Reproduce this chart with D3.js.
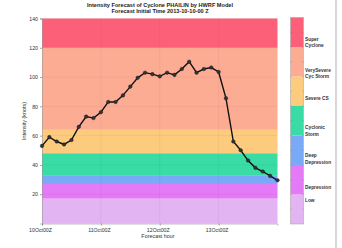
<!DOCTYPE html>
<html>
<head>
<meta charset="utf-8">
<script src="https://cdn.jsdelivr.net/npm/d3@7"></script>
<style>
  body { margin: 0; background: #fff; }
  text { font-family: "Liberation Sans", Arial, sans-serif; }
</style>
</head>
<body>
<div id="chart"></div>
<script>
// forecast hours (3-hourly from 2013-10-10 00Z) and intensity in knots
const hours = [0,3,6,9,12,15,18,21,24,27,30,33,36,39,42,45,48,51,54,57,60,63,66,69,72,75,78,81,84,87,90,93,96];
const intensity = [53,59,56,54,57,66,73,72,76,83,83,87.5,93.5,99.5,103,102,100.5,103,101.5,105.5,110.5,103,105.5,106.5,103.5,85.5,56,50,43,38,35.5,32.5,29.5];

// intensity categories (knots)
const catNames = [["Low"], ["Depression"], ["Deep", "Depression"], ["Cyclonic", "Storm"], ["Severe CS"], ["VerySevere", "Cyc Storm"], ["Super", "Cyclone"]];
const catLow  = [0, 17, 27, 33, 48, 64, 120];
const catHigh = [17, 27, 33, 48, 64, 120, 140];
const catColors = ["#e2b4f1", "#e57af7", "#7aa9f7", "#38dca4", "#fccb7e", "#fdac94", "#fc6079"];

const yTicks = [20, 40, 60, 80, 100, 120, 140];
const xTicks = [0, 24, 48, 72];
const xTickLabels = ["10Oct00Z", "11Oct00Z", "12Oct00Z", "13Oct00Z"];

const W = 342, H = 248;
const svg = d3.select("#chart").append("svg").attr("width", W).attr("height", H);

const x = d3.scaleLinear().domain([0, 96]).range([42, 277.5]);
const y = d3.scaleLinear().domain([0, 140]).range([223.5, 18.5]);

// category bands
svg.append("g").selectAll("rect").data(catLow).join("rect")
    .attr("x", x(0)).attr("width", x(96) - x(0))
    .attr("y", (d, i) => y(catHigh[i])).attr("height", (d, i) => y(d) - y(catHigh[i]))
    .attr("fill", (d, i) => catColors[i]);

// faint grid
const grid = svg.append("g").attr("stroke", "#000").attr("stroke-opacity", 0.08).attr("stroke-width", 0.6);
grid.selectAll(".gx").data(xTicks.slice(1)).join("line")
    .attr("x1", d => x(d)).attr("x2", d => x(d)).attr("y1", y(0)).attr("y2", y(140));
grid.selectAll(".gy").data(yTicks).join("line")
    .attr("x1", x(0)).attr("x2", x(96)).attr("y1", d => y(d)).attr("y2", d => y(d));

// axes
const yAxis = svg.append("g").attr("transform", `translate(${x(0)},0)`)
    .call(d3.axisLeft(y).tickValues(yTicks).tickSize(2).tickPadding(2));
const xAxis = svg.append("g").attr("transform", `translate(0,${y(0)})`)
    .call(d3.axisBottom(x).tickValues(xTicks).tickFormat((d, i) => xTickLabels[i]).tickSize(2).tickPadding(3));
[yAxis, xAxis].forEach(a => {
    a.select(".domain").attr("stroke", "#999").attr("stroke-width", 0.6);
    a.selectAll(".tick line").attr("stroke", "#666").attr("stroke-width", 0.6);
    a.selectAll("text").attr("font-size", 5.2).attr("fill", "#333");
});
xAxis.selectAll("text").attr("dx", -2);

// forecast line
const line = d3.line().x((d, i) => x(hours[i])).y(d => y(d));
svg.append("path").datum(intensity)
    .attr("d", line).attr("fill", "none")
    .attr("stroke", "#111").attr("stroke-width", 1.4);
svg.append("g").selectAll("circle").data(intensity).join("circle")
    .attr("cx", (d, i) => x(hours[i])).attr("cy", d => y(d)).attr("r", 1.8)
    .attr("fill", "#333").attr("stroke", "#111").attr("stroke-width", 0.4);

// titles
svg.append("text").attr("x", 160).attr("y", 6.5).attr("text-anchor", "middle")
    .attr("font-size", 5.6).attr("font-weight", "bold").attr("fill", "#222")
    .text("Intensity Forecast of Cyclone PHAILIN by HWRF Model");
svg.append("text").attr("x", 160).attr("y", 13).attr("text-anchor", "middle")
    .attr("font-size", 5.6).attr("font-weight", "bold").attr("fill", "#222")
    .text("Forecast Initial Time 2013-10-10-00 Z");
svg.append("text").attr("x", 158).attr("y", 238).attr("text-anchor", "middle")
    .attr("font-size", 5.4).attr("fill", "#333").text("Forecast hour");
svg.append("text").attr("transform", "translate(26,121) rotate(-90)").attr("text-anchor", "middle")
    .attr("font-size", 5.4).attr("fill", "#333").text("Intensity (knots)");

// colour bar legend
const cb = d3.scaleLinear().domain([0, 7]).range([224, 17.5]);
const bar = svg.append("g");
bar.selectAll("rect").data(catColors).join("rect")
    .attr("x", 290.5).attr("width", 13)
    .attr("y", (d, i) => cb(i + 1)).attr("height", (d, i) => cb(i) - cb(i + 1))
    .attr("fill", d => d);
bar.append("rect").attr("x", 290.5).attr("y", cb(7)).attr("width", 13).attr("height", cb(0) - cb(7))
    .attr("fill", "none").attr("stroke", "#aaa").attr("stroke-width", 0.6);
bar.selectAll(".tk").data(d3.range(1, 14)).join("g").each(function(k) {
    const yy = cb(k / 2);
    d3.select(this).append("line").attr("x1", 290.5).attr("x2", 292).attr("y1", yy).attr("y2", yy)
        .attr("stroke", "#000").attr("stroke-opacity", 0.25).attr("stroke-width", 0.5);
    d3.select(this).append("line").attr("x1", 302).attr("x2", 303.5).attr("y1", yy).attr("y2", yy)
        .attr("stroke", "#000").attr("stroke-opacity", 0.25).attr("stroke-width", 0.5);
});
const labY = [202, 188.5, 157, 129, 100, 71.5, 40.5];
catNames.forEach((lines, i) => {
    const t = svg.append("text").attr("x", 305).attr("y", labY[i])
        .attr("font-size", 4.8).attr("font-weight", "bold").attr("fill", "#333");
    lines.forEach((s, j) => t.append("tspan").attr("x", 305).attr("dy", j ? 6.6 : 0).text(s));
});

// figure frame edge
svg.append("line").attr("x1", 336).attr("x2", 336).attr("y1", 0).attr("y2", H)
    .attr("stroke", "#999").attr("stroke-width", 0.8);
</script>
</body>
</html>
